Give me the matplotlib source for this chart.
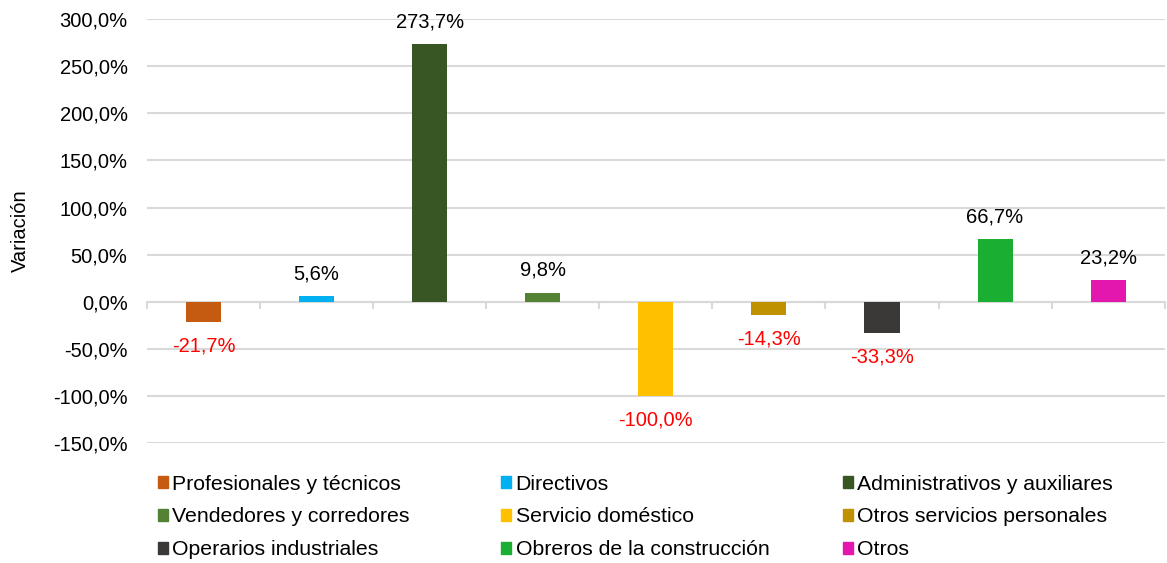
import matplotlib.pyplot as plt
from matplotlib.patches import Patch

plt.rcParams['font.family'] = ['Liberation Sans', 'DejaVu Sans']

categorias = ['Profesionales y técnicos', 'Directivos', 'Administrativos y auxiliares',
              'Vendedores y corredores', 'Servicio doméstico', 'Otros servicios personales',
              'Operarios industriales', 'Obreros de la construcción', 'Otros']
variacion = [-21.7, 5.6, 273.7, 9.8, -100.0, -14.3, -33.3, 66.7, 23.2]
colores = ['#C55A11', '#00B0F0', '#375623', '#548235', '#FFC000', '#BF9000',
           '#3B3838', '#1AAF33', '#E317AD']
yticks = [-150, -100, -50, 0, 50, 100, 150, 200, 250, 300]


def fmt(v):
    return ('%.1f%%' % v).replace('.', ',')


fs = 14.5
fig = plt.figure(figsize=(11.67, 5.63), dpi=100)
ax = fig.add_axes([0.126, 0.213, 0.872, 0.753])

x = list(range(len(categorias)))
ax.bar(x, variacion, width=0.31, color=colores, zorder=3)

for xi, v in zip(x, variacion):
    if v >= 0:
        ax.annotate(fmt(v), (xi, v), xytext=(0, 16), textcoords='offset points',
                    ha='center', va='center', fontsize=fs, color='#000000')
    else:
        ax.annotate(fmt(v), (xi, v), xytext=(0, -17), textcoords='offset points',
                    ha='center', va='center', fontsize=fs, color='#FF0000')

ax.set_ylim(-150, 300)
ax.set_xlim(-0.5, len(categorias) - 0.5)
ax.set_yticks(yticks)
ax.set_yticklabels([fmt(t) for t in yticks], fontsize=fs)
ax.yaxis.grid(True, color='#D9D9D9', linewidth=1.5, zorder=0)
ax.tick_params(axis='y', length=0, pad=14)

ax.set_xticks([i - 0.5 for i in range(len(categorias) + 1)])
ax.set_xticklabels([])
ax.tick_params(axis='x', length=5, width=1.5, color='#D9D9D9', direction='out')

for s in ['top', 'right', 'left']:
    ax.spines[s].set_visible(False)
ax.spines['bottom'].set_position(('data', 0))
ax.spines['bottom'].set_color('#D9D9D9')
ax.spines['bottom'].set_linewidth(1.5)
ax.spines['bottom'].set_zorder(2)

ax.set_ylabel('Variación', fontsize=fs)
ax.yaxis.set_label_coords(-0.115, 0.5)

# leyenda en tres columnas, por filas
col_x = [0.135, 0.429, 0.722]
for c in range(3):
    idx = [c, c + 3, c + 6]
    handles = [Patch(color=colores[i]) for i in idx]
    labels = [categorias[i] for i in idx]
    fig.legend(handles, labels, loc='upper left', bbox_to_anchor=(col_x[c], 0.157),
               frameon=False, fontsize=15.3, handlelength=0.5, handleheight=0.5,
               handletextpad=0.2, labelspacing=0.65, borderaxespad=0, borderpad=0)

fig.savefig('out.png', dpi=100)
